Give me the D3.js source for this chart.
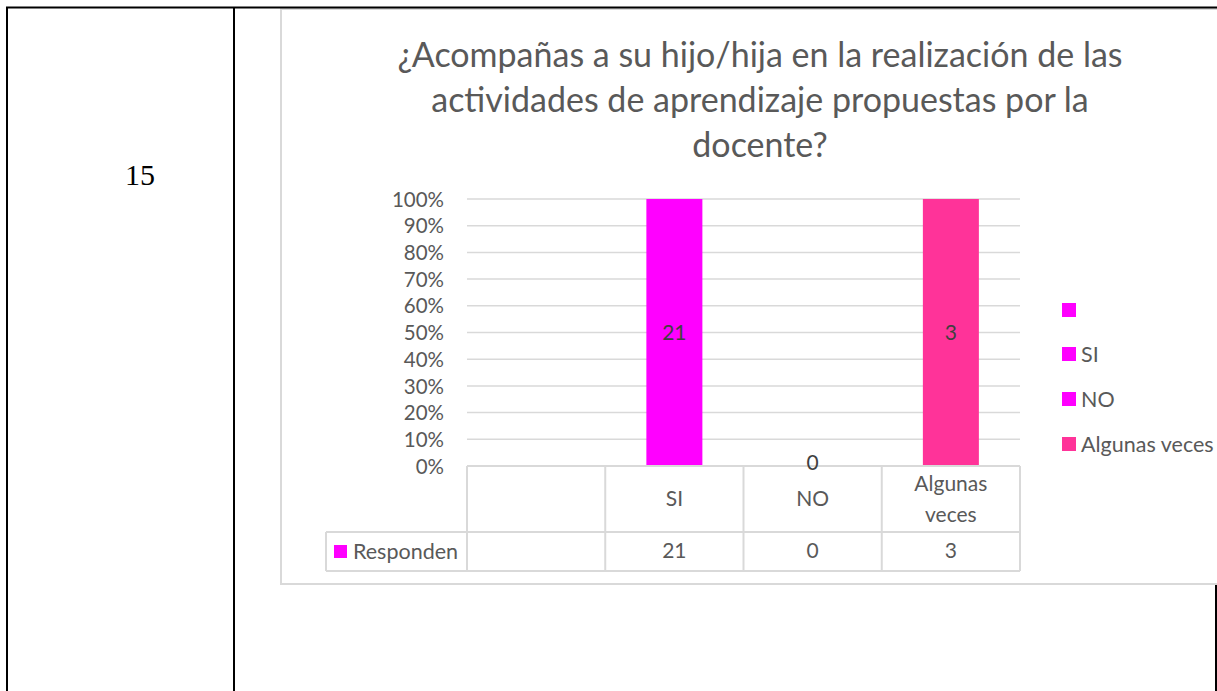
<!DOCTYPE html>
<html>
<head>
<meta charset="utf-8">
<script src="https://cdn.jsdelivr.net/npm/d3@7"></script>
<style>
  html, body { margin: 0; padding: 0; background: #fff; }
  svg { display: block; }
</style>
</head>
<body>
<svg id="chart" width="1217" height="691"></svg>
<script>
// ---- data ----
const rowNumber = "15";
const titleLines = ["¿Acompañas a su hijo/hija en la realización de las", "actividades de aprendizaje propuestas por la", "docente?"];
const categories = ["", "SI", "NO", "Algunas veces"];
const categoryLabelLines = [[""], ["SI"], ["NO"], ["Algunas", "veces"]];
const values = [null, 21, 0, 3];
const seriesName = "Responden";
const legendLabels = ["", "SI", "NO", "Algunas veces"];
const colors = ["#FF00FF", "#FF00FF", "#FF00FF", "#FF3399"];
const yTicks = [0, 0.1, 0.2, 0.3, 0.4, 0.5, 0.6, 0.7, 0.8, 0.9, 1.0];

// ---- layout ----
const svg = d3.select("#chart");
const font = "Lato, 'Open Sans', sans-serif";
const textColor = "#595959";
const gridColor = "#d9d9d9";

svg.append("text").attr("x", 140).attr("y", 185).attr("text-anchor", "middle")
  .attr("font-family", "'Liberation Serif', 'Times New Roman', serif").attr("font-size", 30)
  .attr("fill", "#000").text(rowNumber);

// chart frame
svg.append("rect").attr("x", 281).attr("y", 9).attr("width", 960).attr("height", 575)
  .attr("fill", "#fff").attr("stroke", gridColor).attr("stroke-width", 2);

// outer document table lines
svg.append("line").attr("x1", 6).attr("x2", 1217).attr("y1", 7.5).attr("y2", 7.5).attr("stroke", "#000").attr("stroke-width", 2);
svg.append("line").attr("x1", 7).attr("x2", 7).attr("y1", 7).attr("y2", 691).attr("stroke", "#000").attr("stroke-width", 2);
svg.append("line").attr("x1", 234).attr("x2", 234).attr("y1", 7).attr("y2", 691).attr("stroke", "#000").attr("stroke-width", 2);
svg.append("line").attr("x1", 1216).attr("x2", 1216).attr("y1", 585).attr("y2", 691).attr("stroke", "#000").attr("stroke-width", 2);

// title
const title = svg.append("text").attr("text-anchor", "middle")
  .attr("font-family", font).attr("font-size", 34).attr("fill", textColor);
titleLines.forEach((l, i) => {
  title.append("tspan").attr("x", 760).attr("y", 67 + i * 45).text(l);
});

// scales
const x = d3.scaleBand().domain(categories).range([467, 1020]).paddingInner(0).paddingOuter(0);
const y = d3.scaleLinear().domain([0, 1]).range([466, 199]);
const barW = 56;

// gridlines
svg.append("g").selectAll("line").data(yTicks.slice(1)).join("line")
  .attr("x1", 467).attr("x2", 1020)
  .attr("y1", d => y(d)).attr("y2", d => y(d))
  .attr("stroke", gridColor).attr("stroke-width", 1.5);

// y axis
const yAxis = d3.axisLeft(y).tickValues(yTicks).tickFormat(d3.format(".0%")).tickSize(0).tickPadding(0);
const yg = svg.append("g").attr("transform", "translate(444,0)").call(yAxis);
yg.select(".domain").remove();
yg.selectAll("text").attr("font-family", font).attr("font-size", 20.5).attr("fill", textColor).attr("dy", "0.35em");

// bars (100% stacked: each value as share of its category total)
const share = (v) => (v ? v / v : 0);
const pts = categories.map((c, i) => ({ c, v: values[i], i })).filter(d => d.v !== null);
svg.append("g").selectAll("rect").data(pts)
  .join("rect")
  .attr("x", d => x(d.c) + (x.bandwidth() - barW) / 2)
  .attr("width", barW)
  .attr("y", d => y(share(d.v)))
  .attr("height", d => y(0) - y(share(d.v)))
  .attr("fill", d => colors[d.i]);

// data table
const tableTop = 466, rowSplit = 532, tableBottom = 571, tableLeft = 326;
const tg = svg.append("g").attr("stroke", gridColor).attr("stroke-width", 2);
tg.append("line").attr("x1", 467).attr("x2", 1020).attr("y1", tableTop).attr("y2", tableTop);
tg.append("line").attr("x1", tableLeft).attr("x2", 1020).attr("y1", rowSplit).attr("y2", rowSplit);
tg.append("line").attr("x1", tableLeft).attr("x2", 1020).attr("y1", tableBottom).attr("y2", tableBottom);
tg.append("line").attr("x1", tableLeft).attr("x2", tableLeft).attr("y1", rowSplit).attr("y2", tableBottom);
const edges = categories.map(c => x(c)).concat([x.range()[1]]);
tg.selectAll("line.v").data(edges).join("line").attr("class", "v")
  .attr("x1", d => d).attr("x2", d => d).attr("y1", tableTop).attr("y2", tableBottom);

// data labels
svg.append("g").selectAll("text").data(pts)
  .join("text")
  .attr("x", d => x(d.c) + x.bandwidth() / 2)
  .attr("y", d => d.v ? y(share(d.v) / 2) : y(0) - 3)
  .attr("dy", "0.35em")
  .attr("text-anchor", "middle").attr("font-family", font).attr("font-size", 21).attr("fill", "#404040")
  .text(d => d.v);

// category labels
categories.forEach((c, i) => {
  const lines = categoryLabelLines[i];
  const cy = (tableTop + rowSplit) / 2;
  const t = svg.append("text").attr("text-anchor", "middle").attr("font-family", font)
    .attr("font-size", 21).attr("fill", textColor);
  lines.forEach((l, j) => {
    t.append("tspan").attr("x", x(c) + x.bandwidth() / 2)
      .attr("y", cy + (j - (lines.length - 1) / 2) * 31).attr("dy", "0.35em").text(l);
  });
});

// data row
svg.append("rect").attr("x", 334).attr("y", 545).attr("width", 13).attr("height", 13).attr("fill", colors[0]);
svg.append("text").attr("x", 353).attr("y", 551).attr("dy", "0.35em").attr("font-family", font)
  .attr("font-size", 21.5).attr("fill", textColor).text(seriesName);
pts.forEach(d => {
  svg.append("text").attr("x", x(d.c) + x.bandwidth() / 2).attr("y", 551).attr("dy", "0.35em")
    .attr("text-anchor", "middle").attr("font-family", font).attr("font-size", 21).attr("fill", textColor)
    .text(d.v);
});

// legend
const legendY = [310, 354, 399, 444];
const lg = svg.append("g").selectAll("g").data(legendLabels).join("g")
  .attr("transform", (d, i) => `translate(1062,${legendY[i]})`);
lg.append("rect").attr("x", 0).attr("y", -7).attr("width", 14).attr("height", 14).attr("fill", (d, i) => colors[i]);
lg.append("text").attr("x", 19).attr("y", 0).attr("dy", "0.35em").attr("font-family", font)
  .attr("font-size", 21.5).attr("fill", textColor).text(d => d);
</script>
</body>
</html>
